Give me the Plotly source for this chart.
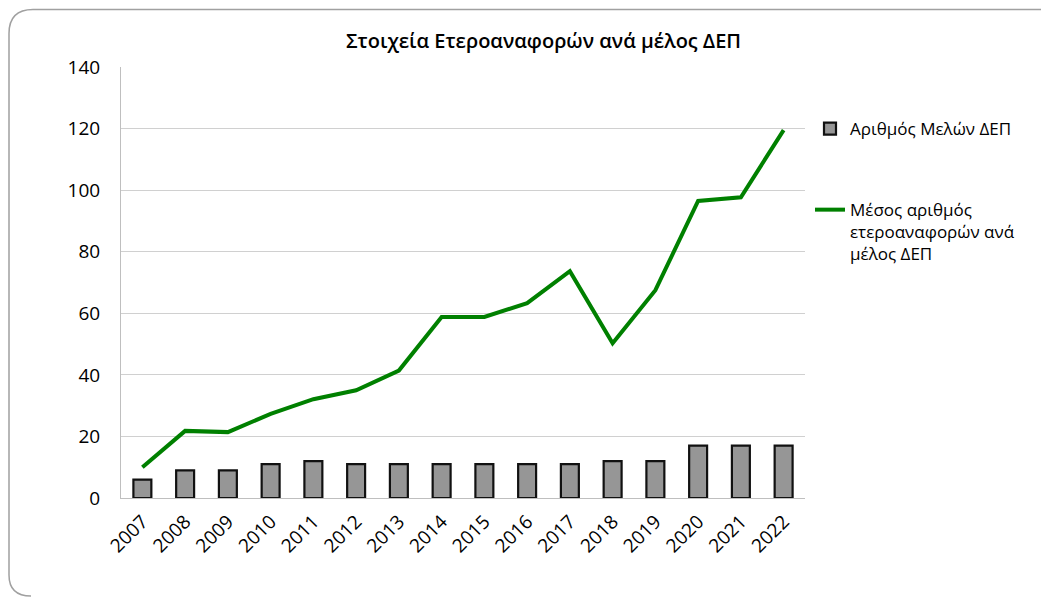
import plotly.graph_objects as go

years = ["2007", "2008", "2009", "2010", "2011", "2012", "2013", "2014",
         "2015", "2016", "2017", "2018", "2019", "2020", "2021", "2022"]
members = [6, 9, 9, 11, 12, 11, 11, 11, 11, 11, 11, 12, 12, 17, 17, 17]
avg_citations = [10.0, 21.8, 21.4, 27.3, 32.1, 35.0, 41.4, 58.8,
                 58.8, 63.3, 73.7, 50.3, 67.5, 96.5, 97.7, 119.5]

title_text = "Στοιχεία Ετεροαναφορών ανά μέλος ΔΕΠ"
bar_name = "Αριθμός Μελών ΔΕΠ"
line_name = "Μέσος αριθμός<br>ετεροαναφορών ανά<br>μέλος ΔΕΠ"

# page body has an 8px margin: work in figure coordinates
OFF = 8
W, H = 1049 - OFF, 597 - OFF
L, R, T, B = 121 - OFF, 805 - OFF, 67 - OFF, 498 - OFF
FONT = "Open Sans"

fig = go.Figure()
fig.add_trace(go.Bar(
    x=years, y=members, name=bar_name, width=0.42,
    marker=dict(color="#969696", line=dict(color="#111111", width=2.2)),
    legendgroup="a",
))
fig.add_trace(go.Scatter(
    x=years, y=avg_citations, name=line_name, mode="lines",
    line=dict(color="#008000", width=4), legendgroup="b",
))

def px(x):
    return (x - OFF - L) / (R - L)

def py(y):
    return (B - (y - OFF)) / (B - T)

# rounded chart border (top and left edges visible), screen coordinates
x0, y0, r = 9, 9.5, 24
path = (f"M {px(1060)},{py(y0)} L {px(x0 + r)},{py(y0)} "
        f"Q {px(x0)},{py(y0)} {px(x0)},{py(y0 + r)} "
        f"L {px(x0)},{py(575)} Q {px(x0)},{py(596)} {px(x0 + 22)},{py(596)}")
fig.add_shape(type="path", path=path, xref="paper", yref="paper",
              line=dict(color="#a0a0a0", width=1.5), layer="below")

fig.add_annotation(text=title_text, xref="paper", yref="paper",
                   x=px(543), y=py(41), xanchor="center", yanchor="middle",
                   showarrow=False,
                   font=dict(size=20, color="#000000", family=FONT, weight=600))

fig.update_layout(
    width=W, height=H,
    margin=dict(l=L, r=W - R, t=T, b=H - B, pad=0),
    paper_bgcolor="white", plot_bgcolor="white",
    font=dict(family=FONT, size=18, color="#000000"),
    showlegend=True,
    legend=dict(x=px(810), y=py(111), xanchor="left", yanchor="top",
                font=dict(size=17, family=FONT), valign="top",
                tracegroupgap=56, bgcolor="rgba(0,0,0,0)"),
)
fig.update_xaxes(type="category", tickangle=-45, showgrid=False,
                 showline=True, linecolor="#bfbfbf", linewidth=1,
                 ticks="", ticklabelstandoff=4, tickfont=dict(size=19))
fig.update_yaxes(range=[0, 140], dtick=20, showgrid=True, gridcolor="#d0d0d0",
                 gridwidth=1, showline=True, linecolor="#bfbfbf", linewidth=1,
                 ticks="", ticklabelstandoff=16, zeroline=False, tickfont=dict(size=19))

fig.write_html("out.html")
